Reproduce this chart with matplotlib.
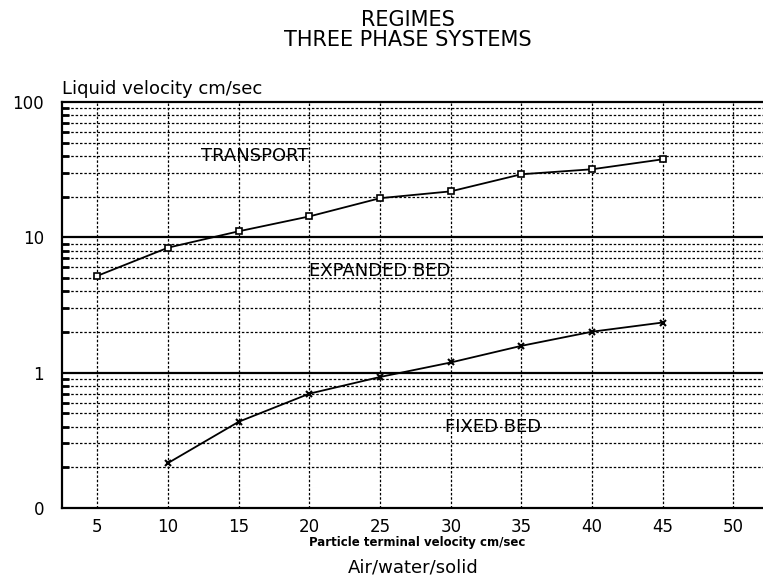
import matplotlib.pyplot as plt
import numpy as np
from matplotlib.ticker import FixedLocator, LogLocator, NullFormatter

# Data
velocity = [5, 10, 15, 20, 25, 30, 35, 40, 45]
transport_limit = [5.2, 8.4, 11.1, 14.3, 19.5, 21.9, 29.3, 31.9, 37.8]
velocity_fixed = [10, 15, 20, 25, 30, 35, 40, 45]
fixed_limit = [0.215, 0.434, 0.70, 0.93, 1.19, 1.58, 2.01, 2.35]

x_ticks = [5, 10, 15, 20, 25, 30, 35, 40, 45, 50]
y_ticks = [0.1, 1, 10, 100]
y_tick_labels = ["0", "1", "10", "100"]

plt.rcParams['font.family'] = ['DejaVu Sans']

fig = plt.figure(figsize=(7.63, 5.77), dpi=100)
ax = fig.add_axes([0.0813, 0.1196, 0.93, 0.7034])

ax.set_yscale('log')
ax.set_xlim(2.5, 52.7)
ax.set_ylim(0.1, 100)

# grid: dotted everywhere, solid on the decades
ax.yaxis.set_minor_locator(LogLocator(base=10, subs=np.arange(2, 10)))
ax.yaxis.set_minor_formatter(NullFormatter())
ax.grid(True, which='minor', axis='y', linestyle=(0, (2, 1.5)), color='black', linewidth=0.9)
ax.xaxis.set_major_locator(FixedLocator(x_ticks))
ax.grid(True, which='major', axis='x', linestyle=(0, (2, 1.5)), color='black', linewidth=0.9)
for dec in [1, 10]:
    ax.axhline(dec, color='black', linewidth=1.6)

ax.plot(velocity, transport_limit, color='black', linewidth=1.3,
        marker='s', markersize=5, markerfacecolor='white', markeredgewidth=1.2)
ax.plot(velocity_fixed, fixed_limit, color='black', linewidth=1.3,
        marker='x', markersize=5, markeredgewidth=1.5)

ax.set_yticks(y_ticks)
ax.set_yticklabels(y_tick_labels)
ax.set_xticks(x_ticks)
ax.set_xticklabels([str(v) for v in x_ticks])
ax.tick_params(axis='both', which='major', labelsize=12, length=0)
ax.tick_params(axis='x', which='major', pad=7)
ax.tick_params(axis='y', which='major', pad=13)
ax.tick_params(axis='y', which='minor', direction='in', length=5, width=2)

for s in ['top', 'left', 'bottom']:
    ax.spines[s].set_linewidth(1.6)
ax.spines['right'].set_visible(False)

# region labels (grid runs through them, as in the original)
ax.text(16.1, 40, "TRANSPORT", ha='center', va='center', fontsize=13)
ax.text(25.0, 5.6, "EXPANDED BED", ha='center', va='center', fontsize=13)
ax.text(33.0, 0.40, "FIXED BED", ha='center', va='center', fontsize=13)

ax.text(0.0, 1.01, "Liquid velocity cm/sec", transform=ax.transAxes,
        ha='left', va='bottom', fontsize=13)

fig.text(0.535, 0.982, "REGIMES\nTHREE PHASE SYSTEMS", ha='center', va='top',
         fontsize=15, linespacing=1.0)
fig.text(0.547, 0.059, "Particle terminal velocity cm/sec", ha='center',
         va='center', fontsize=8.5, fontweight='bold')
fig.text(0.542, 0.017, "Air/water/solid", ha='center', va='center', fontsize=13)

plt.savefig("out.png", dpi=100)
